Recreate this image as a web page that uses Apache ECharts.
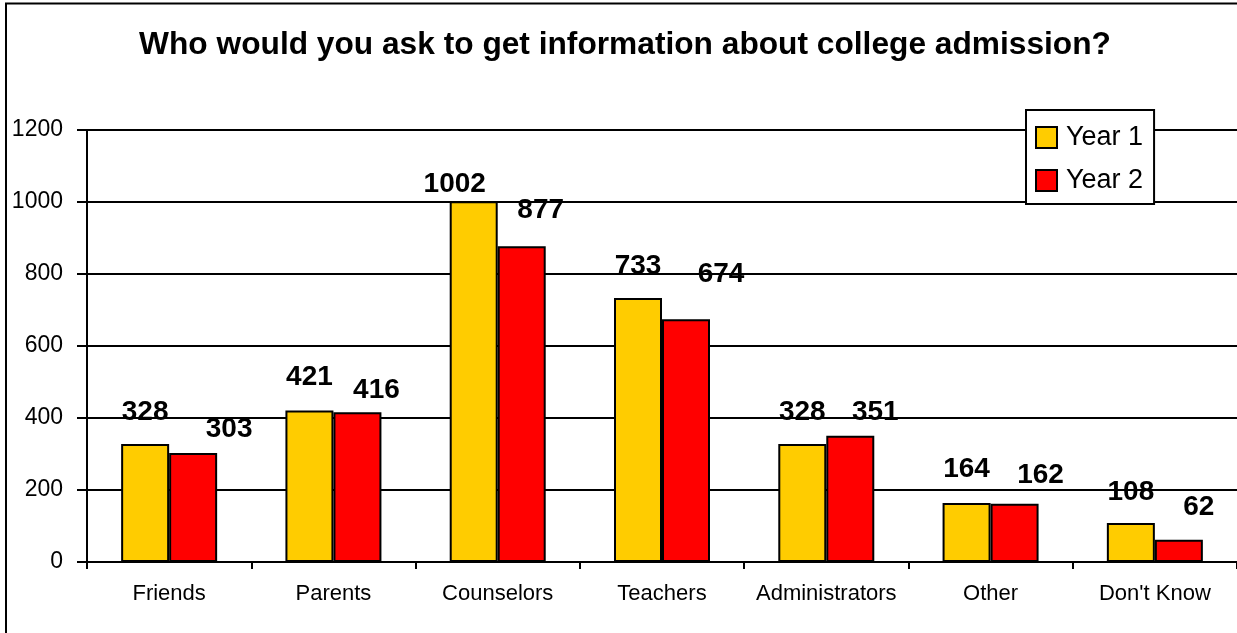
<!DOCTYPE html>
<html>
<head>
<meta charset="utf-8">
<title>College admission information sources</title>
<script src="https://cdn.jsdelivr.net/npm/echarts@6/dist/echarts.min.js"></script>
<style>
  html, body { margin: 0; padding: 0; background: #fff; }
  #chart { width: 1237px; height: 633px; }
</style>
</head>
<body>
<div id="chart"></div>
<script>
// Survey answers: who students would ask about college admission
const categories = ['Friends', 'Parents', 'Counselors', 'Teachers', 'Administrators', 'Other', "Don't Know"];
const year1 = [328, 421, 1002, 733, 328, 164, 108];
const year2 = [303, 416, 877, 674, 351, 162, 62];

// Hand-placed value labels: [horizontal shift, height of label centre above bar top]
const year1LabelNudge = [[0, 32], [0, 33], [-19, 17], [0, 32], [0, 32], [0, 34], [0, 31]];
const year2LabelNudge = [[36, 24], [19, 22], [19, 36], [35, 45], [25, 23], [26, 28], [20, 32]];

const FONT = "'Liberation Sans', Arial, Helvetica, sans-serif";
const LABEL_SIZE = 28;

function withLabels(values, nudges) {
  return values.map((v, i) => ({
    value: v,
    label: { offset: [nudges[i][0], LABEL_SIZE / 2 - nudges[i][1]] }
  }));
}

const chart = echarts.init(document.getElementById('chart'), null, { renderer: 'canvas' });

const barLabel = {
  show: true,
  position: 'top',
  distance: 0,
  color: '#000',
  fontFamily: FONT,
  fontSize: LABEL_SIZE,
  fontWeight: 'bold',
  lineHeight: LABEL_SIZE
};

chart.setOption({
  animation: false,
  backgroundColor: '#fff',
  textStyle: { fontFamily: FONT },
  graphic: [{
    type: 'rect',
    shape: { x: 6, y: 3.5, width: 1400, height: 800 },
    style: { fill: 'none', stroke: '#000', lineWidth: 2 },
    silent: true,
    z: 100
  }],
  title: {
    text: 'Who would you ask to get information about college admission?',
    left: 625,
    top: 29,
    padding: 0,
    textAlign: 'center',
    textStyle: {
      fontFamily: FONT,
      fontSize: 31.7,
      fontWeight: 'bold',
      color: '#000',
      lineHeight: 32
    }
  },
  legend: {
    orient: 'vertical',
    left: 1026,
    top: 110,
    padding: [14, 11, 10, 9],
    itemWidth: 21,
    itemHeight: 21,
    itemGap: 16,
    icon: 'rect',
    backgroundColor: '#fff',
    borderColor: '#000',
    borderWidth: 2,
    borderRadius: 0,
    itemStyle: { borderColor: '#000', borderWidth: 2 },
    textStyle: {
      fontFamily: FONT,
      fontSize: 27,
      lineHeight: 27,
      color: '#000',
      padding: [0, 0, 0, 4]
    },
    data: ['Year 1', 'Year 2'],
    z: 10
  },
  grid: {
    left: 87,
    top: 130,
    width: 1155,
    height: 432,
    containLabel: false
  },
  xAxis: {
    type: 'category',
    data: categories,
    boundaryGap: true,
    axisLine: { show: true, lineStyle: { color: '#000', width: 2 } },
    axisTick: { show: true, inside: false, length: 7, alignWithLabel: false, lineStyle: { color: '#000', width: 2 } },
    axisLabel: { color: '#000', fontFamily: FONT, fontSize: 22, margin: 21, interval: 0 },
    splitLine: { show: false }
  },
  yAxis: {
    type: 'value',
    min: 0,
    max: 1200,
    interval: 200,
    axisLine: { show: true, lineStyle: { color: '#000', width: 2 } },
    axisTick: { show: true, inside: false, length: 10, lineStyle: { color: '#000', width: 2 } },
    axisLabel: { color: '#000', fontFamily: FONT, fontSize: 23, margin: 24, formatter: (v) => String(v) },
    splitLine: { show: true, lineStyle: { color: '#000', width: 2, type: 'solid' } }
  },
  series: [
    {
      name: 'Year 1',
      type: 'bar',
      barWidth: 48,
      barGap: '0%',
      itemStyle: { color: '#FFCC00', borderColor: '#000', borderWidth: 2 },
      label: barLabel,
      data: withLabels(year1, year1LabelNudge)
    },
    {
      name: 'Year 2',
      type: 'bar',
      barWidth: 48,
      barGap: '0%',
      itemStyle: { color: '#FF0000', borderColor: '#000', borderWidth: 2 },
      label: barLabel,
      data: withLabels(year2, year2LabelNudge)
    }
  ]
});
</script>
</body>
</html>
